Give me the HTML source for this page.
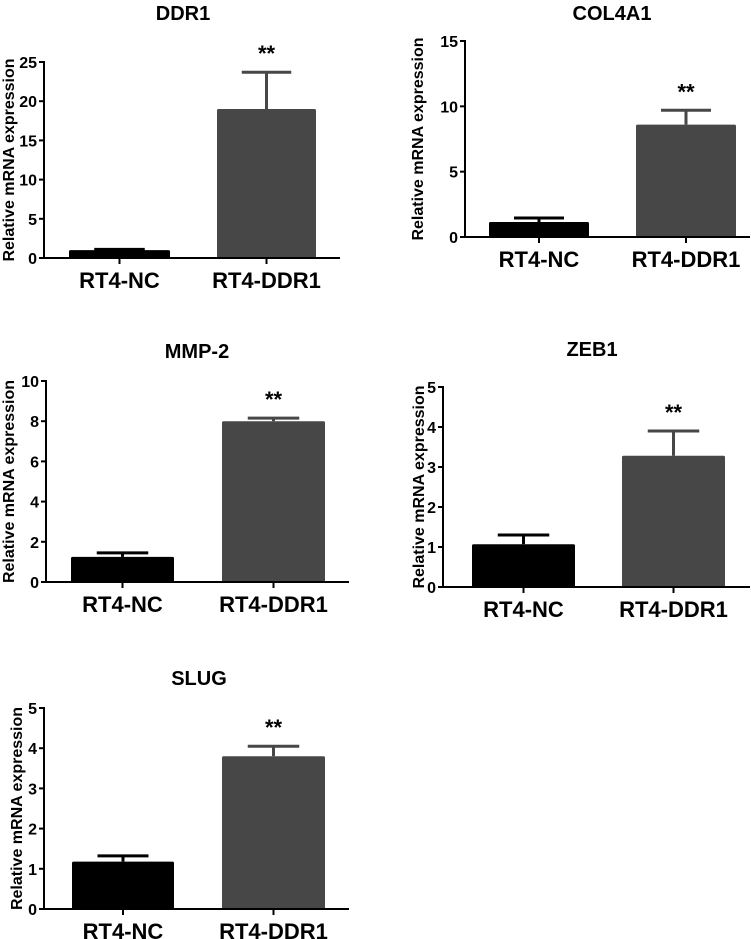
<!DOCTYPE html>
<html><head><meta charset="utf-8"><style>
html,body{margin:0;padding:0;background:#fff;}
svg{display:block;font-family:"Liberation Sans",Arial,sans-serif;font-weight:bold;}
</style></head><body>
<svg id="fig" width="751" height="939" viewBox="0 0 751 939" xmlns="http://www.w3.org/2000/svg"></svg>
<script>
const titles = ["DDR1","COL4A1","MMP-2","ZEB1","SLUG"];
const categories = ["RT4-NC","RT4-DDR1"];
const ncValues = [1.0, 1.15, 1.25, 1.07, 1.18];
const ddrValues = [19.0, 8.6, 8.0, 3.28, 3.8];
const ncErrors = [0.1, 0.3, 0.2, 0.23, 0.14];
const ddrErrors = [4.7, 1.1, 0.15, 0.62, 0.25];
const yMaxes = [25, 15, 10, 5, 5];
const yStepTicks = [[0,5,10,15,20,25],[0,5,10,15],[0,2,4,6,8,10],[0,1,2,3,4,5],[0,1,2,3,4,5]];

const layouts = [
  {ax:44, y0:258, yTop:62, xEnd:340, bars:[[69,170],[217,316]], titleX:183, titleY:19, axTitleX:14},
  {ax:465, y0:237, yTop:41, xEnd:750, bars:[[489,589],[636,736]], titleX:612, titleY:19, axTitleX:423},
  {ax:46, y0:582, yTop:381, xEnd:349, bars:[[71,174],[222,325]], titleX:197, titleY:357, axTitleX:14},
  {ax:443, y0:587, yTop:387, xEnd:750, bars:[[472,575],[622,725]], titleX:592, titleY:355, axTitleX:424},
  {ax:44, y0:909, yTop:708, xEnd:349, bars:[[72,174],[222,325]], titleX:199, titleY:684, axTitleX:22}
];
const NS="http://www.w3.org/2000/svg";
const svg=document.getElementById('fig');
function mk(tag,attrs,parent){const e=document.createElementNS(NS,tag);for(const k in attrs)e.setAttribute(k,attrs[k]);(parent||svg).appendChild(e);return e;}

titles.forEach((t,i)=>{
  const L=layouts[i];
  const g=mk('g',{});
  
  
  const yS=v=>L.y0-(v/yMaxes[i])*(L.y0-L.yTop);
  const ti=mk('text',{x:L.titleX,y:L.titleY+1,'text-anchor':'middle','font-size':20},g);
  ti.textContent=t;
  
  
  const vals=[ncValues[i],ddrValues[i]], errs=[ncErrors[i],ddrErrors[i]], cols=['#000','#474747'];
  vals.forEach((v,j)=>{
    const [x1,x2]=L.bars[j]; const cx=(x1+x2)/2; const w=x2-x1;
    const top=yS(v+errs[j]);
    const eb=mk('line',{x1:cx,x2:cx,y1:yS(v),y2:top,stroke:cols[j],'stroke-width':3},g);
    
    
    const cap=mk('line',{x1:cx-w/4,x2:cx+w/4,y1:top,y2:top,stroke:cols[j],'stroke-width':3},g);
    
    
    const r=mk('rect',{x:x1,y:yS(v),width:w,height:L.y0-yS(v),fill:cols[j],rx:1.5},g);
    
    
    const lb=mk('text',{x:cx,y:L.y0+30,'text-anchor':'middle','font-size':22},g);
    lb.textContent=categories[j];
    
    
    mk('line',{x1:cx,x2:cx,y1:L.y0,y2:L.y0+6,stroke:'#000','stroke-width':2},g);
    if(j===1){
      const s=mk('text',{x:cx,y:top-11,'text-anchor':'middle','font-size':22},g);
      s.textContent='**';
      
      
    }
  });
  const ya=mk('line',{x1:L.ax,x2:L.ax,y1:L.yTop-1,y2:L.y0+1,stroke:'#000','stroke-width':2},g);
  
  
  const xa=mk('line',{x1:L.ax-1,x2:L.xEnd,y1:L.y0,y2:L.y0,stroke:'#000','stroke-width':2},g);
  
  
  yStepTicks[i].forEach(v=>{
    const y=yS(v);
    mk('line',{x1:L.ax-5,x2:L.ax,y1:y,y2:y,stroke:'#000','stroke-width':2},g);
    const tl=mk('text',{x:L.ax-7,y:y+6,'text-anchor':'end','font-size':16},g);
    tl.textContent=v;
    
    
  });
  const cy=(L.y0+L.yTop)/2;
  const at=mk('text',{x:L.axTitleX,y:cy,'text-anchor':'middle','font-size':16,transform:`rotate(-90 ${L.axTitleX} ${cy})`},g);
  at.textContent='Relative mRNA expression';
  
  
});
</script>
</body></html>
